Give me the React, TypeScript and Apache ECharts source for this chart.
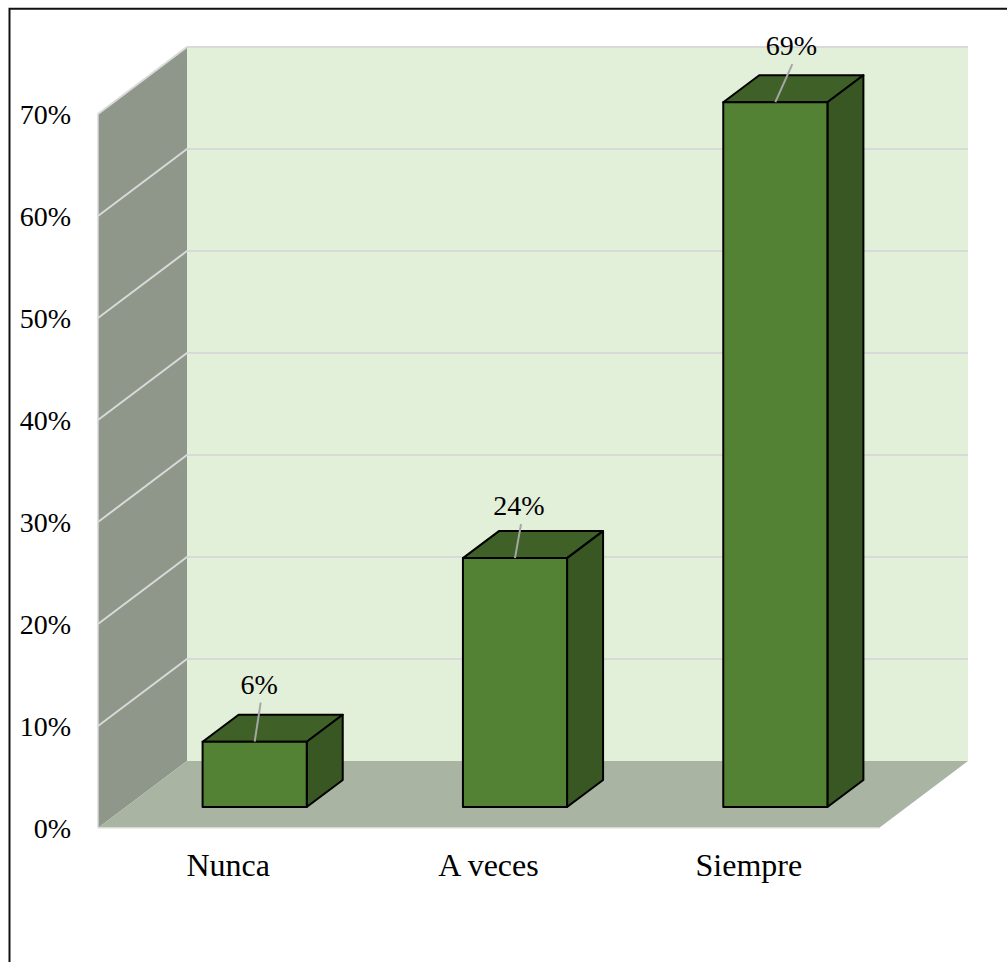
import React, { useEffect, useRef } from "react";
import * as echarts from "echarts";

const categories = ["Nunca", "A veces", "Siempre"];
const shares = [6.4, 24.4, 69.1];
const yTicks = [0, 10, 20, 30, 40, 50, 60, 70];

const WIDTH = 1007;
const HEIGHT = 962;
const FONT = '"Liberation Serif", "Times New Roman", serif';
const COLORS = {
  wall: "#8e9789",
  back: "#e2efd9",
  floor: "#a9b4a3",
  grid: "#d9d9d9",
  front: "#548235",
  top: "#3f6128",
  side: "#385723",
  leader: "#a6a6a6",
};
const BOX = { dx: 89, dy: -67 };
const BAR = { dx: 36, dy: -27, ratio: 0.4, shiftX: 26.5, shiftY: -21 };
const labelLeader = [
  { dx: 6, dy: -39, tx: 4.5, ty: -57 },
  { dx: 6, dy: -34, tx: 4, ty: -53 },
  { dx: 17, dy: -38, tx: 16, ty: -57 },
];

function renderRoom(_p: any, api: any) {
  const o = api.coord([0, 0]);
  const t = api.coord([0, 70]);
  const bandW = api.size([1, 0])[0];
  const xL = o[0] - bandW / 2;
  const xR = xL + bandW * categories.length;
  const yB = o[1];
  const yT = t[1];
  const { dx, dy } = BOX;
  const poly = (points: number[][], fill: string) => ({
    type: "polygon",
    shape: { points },
    style: { fill },
    silent: true,
  });
  return {
    type: "group",
    children: [
      poly([[xL, yT], [xL + dx, yT + dy], [xL + dx, yB + dy], [xL, yB]], COLORS.wall),
      poly([[xL + dx, yT + dy], [xR + dx, yT + dy], [xR + dx, yB + dy], [xL + dx, yB + dy]], COLORS.back),
      poly([[xL, yB], [xL + dx, yB + dy], [xR + dx, yB + dy], [xR, yB]], COLORS.floor),
      {
        type: "line",
        shape: { x1: xL, y1: yT, x2: xL, y2: yB },
        style: { stroke: COLORS.grid, lineWidth: 1.5 },
      },
      {
        type: "line",
        shape: { x1: xL, y1: yB, x2: xR, y2: yB },
        style: { stroke: "#e4e8e1", lineWidth: 1.5 },
      },
    ],
  };
}

function renderGrid(_p: any, api: any) {
  const p = api.coord([0, api.value(0)]);
  const bandW = api.size([1, 0])[0];
  const xL = p[0] - bandW / 2;
  const xR = xL + bandW * categories.length;
  const { dx, dy } = BOX;
  return {
    type: "polyline",
    shape: { points: [[xL, p[1]], [xL + dx, p[1] + dy], [xR + dx, p[1] + dy]] },
    style: { stroke: COLORS.grid, lineWidth: 2, fill: "none" },
    silent: true,
  };
}

function renderBar(p: any, api: any) {
  const idx = api.value(0);
  const val = api.value(1);
  const top = api.coord([idx, val]);
  const base = api.coord([idx, 0]);
  const w = api.size([1, 0])[0] * BAR.ratio;
  const x0 = top[0] + BAR.shiftX - w / 2;
  const x1 = x0 + w;
  const y0 = top[1] + BAR.shiftY;
  const y1 = base[1] + BAR.shiftY;
  const { dx, dy } = BAR;
  const edge = { stroke: "#000", lineWidth: 2, lineJoin: "round" };
  const ll = labelLeader[p.dataIndex];
  const cx = (x0 + x1) / 2;
  return {
    type: "group",
    children: [
      {
        type: "polygon",
        shape: { points: [[x0, y0], [x0 + dx, y0 + dy], [x1 + dx, y0 + dy], [x1, y0]] },
        style: { fill: COLORS.top, ...edge },
      },
      {
        type: "polygon",
        shape: { points: [[x1, y0], [x1 + dx, y0 + dy], [x1 + dx, y1 + dy], [x1, y1]] },
        style: { fill: COLORS.side, ...edge },
      },
      {
        type: "rect",
        shape: { x: x0, y: y0, width: w, height: y1 - y0 },
        style: { fill: COLORS.front, ...edge },
      },
      {
        type: "line",
        shape: { x1: cx, y1: y0, x2: cx + ll.dx, y2: y0 + ll.dy },
        style: { stroke: COLORS.leader, lineWidth: 2 },
      },
      {
        type: "text",
        style: {
          x: cx + ll.tx,
          y: y0 + ll.ty,
          text: `${Math.round(val)}%`,
          fill: "#000",
          font: `28px ${FONT}`,
          textAlign: "center",
          textVerticalAlign: "middle",
        },
      },
    ],
  };
}

export default function App() {
  const ref = useRef<HTMLDivElement>(null);
  useEffect(() => {
    document.body.style.margin = "0";
    const chart = echarts.init(ref.current!, undefined, { renderer: "svg" });
    chart.setOption({
      animation: false,
      backgroundColor: "#fff",
      grid: { left: 98, right: 128, top: 114, bottom: 134, containLabel: false },
      xAxis: {
        type: "category",
        data: categories,
        axisLine: { show: false },
        axisTick: { show: false },
        axisLabel: { color: "#000", fontFamily: FONT, fontSize: 32, margin: 21 },
      },
      yAxis: {
        type: "value",
        min: 0,
        max: 70,
        interval: 10,
        axisLine: { show: false },
        axisTick: { show: false },
        splitLine: { show: false },
        axisLabel: {
          color: "#000",
          fontFamily: FONT,
          fontSize: 28,
          margin: 27,
          padding: [2, 0, 0, 0],
          formatter: (v: number) => `${v}%`,
        },
      },
      graphic: [
        {
          type: "polyline",
          shape: { points: [[9.5, HEIGHT], [9.5, 8.8], [WIDTH, 8.8]] },
          style: { stroke: "#111", lineWidth: 2, fill: "none" },
          silent: true,
        },
      ],
      series: [
        {
          type: "custom",
          name: "room",
          coordinateSystem: "cartesian2d",
          clip: false,
          silent: true,
          z: 1,
          data: [[0, 0]],
          renderItem: renderRoom,
        },
        {
          type: "custom",
          name: "grid",
          coordinateSystem: "cartesian2d",
          clip: false,
          silent: true,
          z: 2,
          encode: { x: 1, y: 0 },
          data: yTicks.slice(1).map((t) => [t, 0]),
          renderItem: renderGrid,
        },
        {
          type: "custom",
          name: "Porcentaje",
          coordinateSystem: "cartesian2d",
          clip: false,
          z: 3,
          encode: { x: 0, y: 1 },
          data: shares.map((v, i) => [i, v]),
          renderItem: renderBar,
        },
      ],
    });
    return () => chart.dispose();
  }, []);
  return (
    <div
      ref={ref}
      style={{ position: "absolute", left: 0, top: 0, width: WIDTH, height: HEIGHT }}
    />
  );
}
